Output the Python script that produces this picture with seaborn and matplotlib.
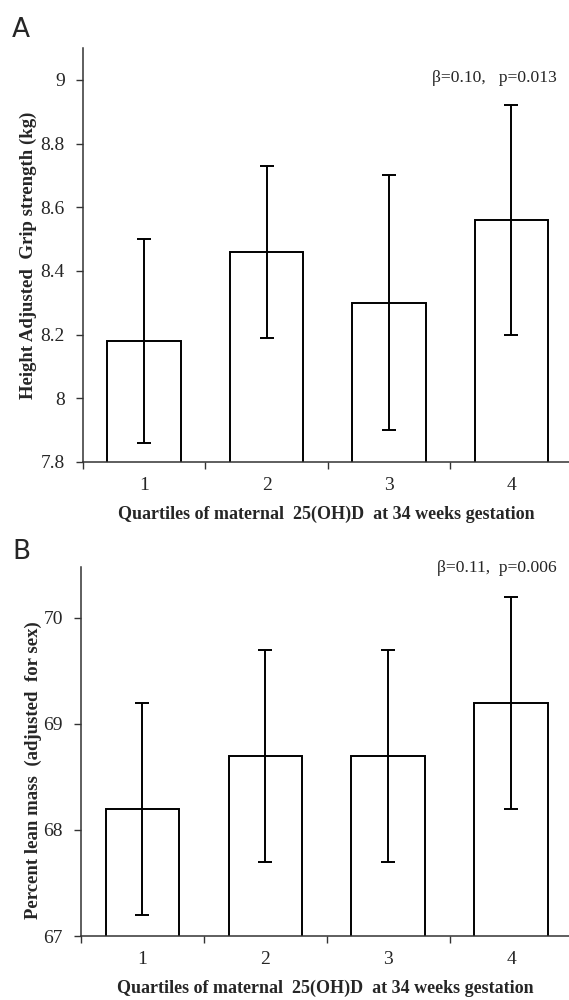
import numpy as np
import pandas as pd
import matplotlib
matplotlib.use("Agg")
import matplotlib.pyplot as plt
import seaborn as sns
from matplotlib.ticker import FixedLocator

# ── data ─────────────────────────────────────────────────
quartiles = ["1", "2", "3", "4"]

grip_mean = [8.18, 8.46, 8.30, 8.56]
grip_low = [7.86, 8.19, 7.90, 8.20]
grip_high = [8.50, 8.73, 8.70, 8.92]

lean_mean = [68.2, 68.7, 68.7, 69.2]
lean_low = [67.2, 67.7, 67.7, 68.2]
lean_high = [69.2, 69.7, 69.7, 70.2]

grip_ticks = [7.8, 8, 8.2, 8.4, 8.6, 8.8, 9]
grip_ticklabels = ["7.8", "8", "8.2", "8.4", "8.6", "8.8", "9"]
lean_ticks = [67, 68, 69, 70]

xlabel = "Quartiles of maternal  25(OH)D  at 34 weeks gestation"

sns.set_theme(style="white")
plt.rcParams["font.family"] = ["Liberation Serif", "DejaVu Serif"]

fig = plt.figure(figsize=(5.69, 10), dpi=100)
axA = fig.add_axes([83 / 569, 1 - 462 / 1000, 1 - 83 / 569, (462 - 48) / 1000])
axB = fig.add_axes([81 / 569, 1 - 936 / 1000, 1 - 81 / 569, (936 - 567) / 1000])


def draw_panel(ax, mean, low, high, ylim, yticks, yticklabels, ylabel,
               stat, stat_y, ylabel_xy):
    df = pd.DataFrame({"q": quartiles, "v": mean})
    sns.barplot(data=df, x="q", y="v", color="white", edgecolor="black",
                linewidth=1.4, width=0.6, ax=ax, errorbar=None)
    # keep the fill pure white
    for p in ax.patches:
        p.set_facecolor("white")
    m = np.array(mean)
    yerr = [m - np.array(low), np.array(high) - m]
    ax.errorbar(np.arange(len(quartiles)), m, yerr=yerr, fmt="none",
                ecolor="black", elinewidth=1.4, capsize=5, capthick=1.4)
    ax.set_xlim(-0.5, 3.47)
    ax.set_ylim(*ylim)
    ax.set_yticks(yticks)
    ax.set_yticklabels(yticklabels)
    ax.xaxis.set_minor_locator(FixedLocator([-0.5, 0.5, 1.5, 2.5]))
    ax.tick_params(axis="x", which="major", length=0, pad=11, labelsize=14)
    ax.tick_params(axis="x", which="minor", bottom=True, length=5,
                   width=1, color="#333333", direction="out")
    ax.tick_params(axis="y", left=True, length=5, width=1, color="#333333",
                   direction="out", labelsize=14, pad=8)
    for side in ["top", "right"]:
        ax.spines[side].set_visible(False)
    for side in ["left", "bottom"]:
        ax.spines[side].set_color("#333333")
        ax.spines[side].set_linewidth(1.1)
    ax.set_xlabel(xlabel, fontsize=13, fontweight="bold", labelpad=8)
    ax.set_ylabel(ylabel, fontsize=13.5, fontweight="bold")
    ax.yaxis.set_label_coords(*ylabel_xy)
    ax.text(0.975, stat_y, stat, transform=ax.transAxes, ha="right",
            va="center", fontsize=12.6)


draw_panel(axA, grip_mean, grip_low, grip_high, (7.8, 9.1), grip_ticks,
           grip_ticklabels, "Height Adjusted  Grip strength (kg)",
           "β=0.10,   p=0.013", 0.928, (-0.095, 0.5))
draw_panel(axB, lean_mean, lean_low, lean_high, (67, 70.48), lean_ticks,
           [str(t) for t in lean_ticks], "Percent lean mass  (adjusted  for sex)",
           "β=0.11,  p=0.006", 0.997, (-0.080, 0.45))

fig.text(12 / 569, 1 - 37 / 1000, "A", fontsize=19, family="DejaVu Sans")
fig.text(12 / 569, 1 - 559 / 1000, "B", fontsize=19, family="DejaVu Sans")

fig.savefig("out.png", dpi=100)
plt.close(fig)
